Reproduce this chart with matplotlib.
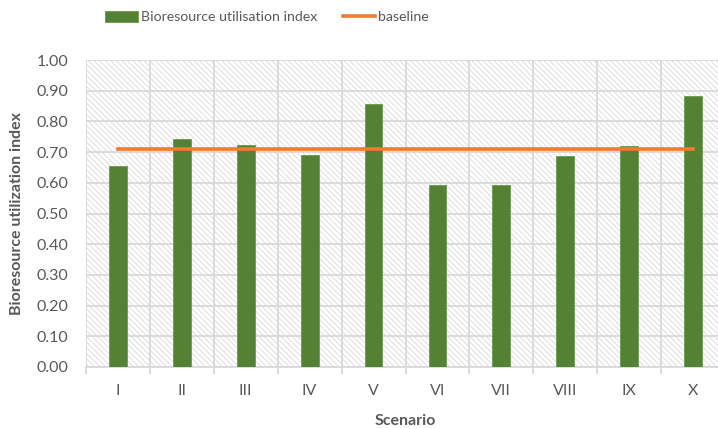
import numpy as np
import matplotlib
matplotlib.use("Agg")
import matplotlib.pyplot as plt
from matplotlib.patches import Rectangle

scenarios = ["I", "II", "III", "IV", "V", "VI", "VII", "VIII", "IX", "X"]
index_vals = [0.656, 0.743, 0.723, 0.690, 0.858, 0.594, 0.594, 0.687, 0.720, 0.884]
baseline = [0.710] * len(scenarios)
yticks = [0.0, 0.1, 0.2, 0.3, 0.4, 0.5, 0.6, 0.7, 0.8, 0.9, 1.0]

green = "#548235"
orange = "#ED7D31"
grey_txt = "#595959"
grid_c = "#d9d9d9"

plt.rcParams['font.family'] = ['Lato', 'DejaVu Sans']
plt.rcParams['hatch.linewidth'] = 0.7

fig = plt.figure(figsize=(7.18, 4.29), dpi=100)
ax = fig.add_axes([86/718, 62/429, 639/718, 307/429])

# hatched plot background
bg = Rectangle((0, 0), 1, 1, transform=ax.transAxes, facecolor="white",
               edgecolor="#dedede", hatch="\\" * 6, lw=0, zorder=0)
ax.add_patch(bg)

x = np.arange(len(scenarios))
bars = ax.bar(x, index_vals, width=0.28, color=green, edgecolor="#6a9a4a", lw=0.6,
              zorder=3, label="Bioresource utilisation index")
line, = ax.plot(x, baseline, color=orange, lw=2.6, zorder=4, label="baseline")

ax.set_xlim(-0.5, len(scenarios) - 0.5)
ax.set_ylim(0, 1.0)
ax.set_yticks(yticks)
ax.set_yticklabels([f"{v:.2f}" for v in yticks])
ax.set_xticks(x)
ax.set_xticklabels(scenarios)
ax.set_xticks(np.arange(len(scenarios) + 1) - 0.5, minor=True)

ax.grid(axis="y", color=grid_c, lw=1.3, zorder=1)
ax.grid(axis="x", which="minor", color=grid_c, lw=1.3, zorder=1)
ax.tick_params(axis="x", which="major", length=0, pad=12, labelsize=11.5, labelcolor=grey_txt)
ax.tick_params(axis="x", which="minor", length=5, width=1.3, color=grid_c)
ax.tick_params(axis="y", length=0, pad=13, labelsize=11.5, labelcolor=grey_txt)

for s in ["top", "right", "left"]:
    ax.spines[s].set_visible(False)
ax.spines["bottom"].set_color(grid_c)
ax.spines["bottom"].set_linewidth(1.3)
ax.set_axisbelow(True)

ax.set_xlabel("Scenario", fontsize=11.5, fontweight="bold", color=grey_txt, labelpad=12)
ax.set_ylabel("Bioresource utilization index", fontsize=11.5, fontweight="bold",
              color=grey_txt, labelpad=9)

fig.legend([bars, line], ["Bioresource utilisation index", "baseline"],
           loc="upper center", bbox_to_anchor=(0.372, 1.005), ncol=2, frameon=False,
           fontsize=10.2, handlelength=2.3, handleheight=0.9, handletextpad=0.2,
           columnspacing=1.8, labelcolor=grey_txt)

fig.savefig("out.png", dpi=100)
